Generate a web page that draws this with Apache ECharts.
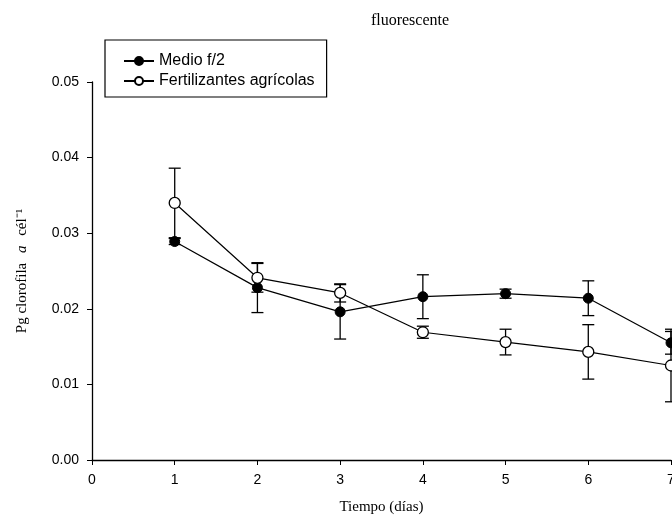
<!DOCTYPE html>
<html>
<head>
<meta charset="utf-8">
<script src="https://cdn.jsdelivr.net/npm/echarts@6/dist/echarts.min.js"></script>
<style>
  html, body { margin: 0; padding: 0; background: #fff; }
  #chart { width: 672px; height: 523px; }
</style>
</head>
<body>
<div id="chart"></div>
<script>
// datos
var days = [1, 2, 3, 4, 5, 6, 7];
var medioMean = [0.0289, 0.0228, 0.0196, 0.0216, 0.0220, 0.0214, 0.0155];
var medioErr = [0.0004, 0.0033, 0.0036, 0.0029, 0.0006, 0.0023, 0.0015];
var fertMean = [0.0340, 0.0241, 0.0221, 0.0169, 0.0156, 0.0143, 0.0125];
var fertErr = [0.0046, 0.0019, 0.0012, 0.0008, 0.0017, 0.0036, 0.0048];
var yTicks = ['0.00', '0.01', '0.02', '0.03', '0.04', '0.05'];

var sans = 'Liberation Sans';
var serif = 'Liberation Serif';

function points(mean) {
    var out = [];
    for (var i = 0; i < days.length; i++) {
        out.push([days[i], mean[i]]);
    }
    return out;
}

function bars(mean, err) {
    var out = [];
    for (var i = 0; i < days.length; i++) {
        out.push([days[i], mean[i] - err[i], mean[i] + err[i]]);
    }
    return out;
}

// barras de error con remate
function renderErr(params, api) {
    var x = api.value(0);
    var lo = api.coord([x, api.value(1)]);
    var hi = api.coord([x, api.value(2)]);
    var w = 6;
    var st = { stroke: '#000', lineWidth: 1.3 };
    return {
        type: 'group',
        children: [
            { type: 'line', shape: { x1: lo[0], y1: lo[1], x2: hi[0], y2: hi[1] }, style: st },
            { type: 'line', shape: { x1: hi[0] - w, y1: hi[1], x2: hi[0] + w, y2: hi[1] }, style: st },
            { type: 'line', shape: { x1: lo[0] - w, y1: lo[1], x2: lo[0] + w, y2: lo[1] }, style: st }
        ]
    };
}

var myChart = echarts.init(document.getElementById('chart'));
var option = {
    animation: false,
    backgroundColor: '#fff',
    title: {
        text: 'fluorescente',
        left: 405,
        textAlign: 'center',
        top: 8,
        textStyle: { fontFamily: serif, fontSize: 16, fontWeight: 'normal', color: '#000' }
    },
    legend: {
        orient: 'vertical',
        left: 105,
        top: 40,
        padding: [13, 12, 8, 18],
        itemGap: 4,
        itemWidth: 30,
        itemHeight: 10,
        borderColor: '#000',
        borderWidth: 1.2,
        textStyle: { fontFamily: sans, fontSize: 16, color: '#000' },
        data: ['Medio f/2', 'Fertilizantes agrícolas']
    },
    grid: { left: 92, right: 1, top: 82, bottom: 63, outerBoundsMode: 'none', containLabel: false },
    xAxis: {
        type: 'value',
        min: 0,
        max: 7,
        interval: 1,
        name: 'Tiempo (días)',
        nameLocation: 'middle',
        nameGap: 40,
        nameTextStyle: { fontFamily: serif, fontSize: 15, color: '#000' },
        axisLine: { lineStyle: { color: '#000', width: 1.3 } },
        axisTick: { inside: false, length: 5, lineStyle: { color: '#000' } },
        axisLabel: { fontFamily: sans, fontSize: 14, color: '#000', margin: 13 },
        splitLine: { show: false }
    },
    yAxis: {
        type: 'value',
        min: 0,
        max: 0.05,
        interval: 0.01,
        name: 'Pg clorofila {i|a} cél⁻¹',
        nameLocation: 'middle',
        nameGap: 62,
        nameTextStyle: {
            fontFamily: serif, fontSize: 15, color: '#000',
            rich: { i: { fontFamily: serif, fontSize: 15, fontStyle: 'italic', padding: [0, 6, 0, 6] } }
        },
        axisLine: { show: true, lineStyle: { color: '#000', width: 1.3 } },
        axisTick: { show: true, length: 5, lineStyle: { color: '#000' } },
        axisLabel: {
            fontFamily: sans, fontSize: 14, color: '#000', margin: 13,
            formatter: function (v) { return yTicks[Math.round(v * 100)]; }
        },
        splitLine: { show: false }
    },
    series: [
        {
            name: 'errMedio',
            type: 'custom',
            renderItem: renderErr,
            data: bars(medioMean, medioErr),
            z: 1,
            silent: true
        },
        {
            name: 'errFert',
            type: 'custom',
            renderItem: renderErr,
            data: bars(fertMean, fertErr),
            z: 1,
            silent: true
        },
        {
            name: 'Medio f/2',
            type: 'line',
            data: points(medioMean),
            symbol: 'circle',
            symbolSize: 10,
            z: 3,
            lineStyle: { color: '#000', width: 1.2 },
            itemStyle: { color: '#000', borderColor: '#000', borderWidth: 1 }
        },
        {
            name: 'Fertilizantes agrícolas',
            type: 'line',
            data: points(fertMean),
            symbol: 'circle',
            symbolSize: 11,
            z: 3,
            lineStyle: { color: '#000', width: 1.2 },
            itemStyle: { color: '#fff', borderColor: '#000', borderWidth: 1.3 }
        }
    ]
};
myChart.setOption(option);
</script>
</body>
</html>
